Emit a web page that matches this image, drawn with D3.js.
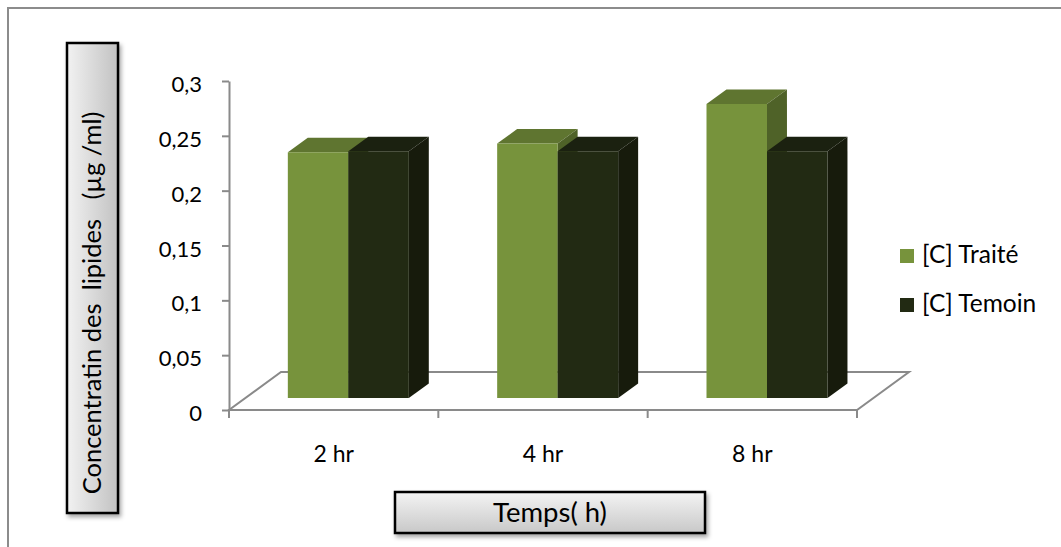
<!DOCTYPE html>
<html>
<head>
<meta charset="utf-8">
<script src="https://cdn.jsdelivr.net/npm/d3@7/dist/d3.min.js"></script>
<style>
  html, body { margin: 0; padding: 0; background: #fff; }
  svg { display: block; }
  text { font-family: Lato, "Open Sans", sans-serif; fill: #000; }
</style>
</head>
<body>
<svg id="chart" width="1061" height="547"></svg>
<script>
// Lipid concentration over time, treated vs control
const categories = ["2 hr", "4 hr", "8 hr"];
const seriesNames = ["[C] Traité", "[C] Temoin"];
const traite = [0.224, 0.232, 0.268];
const temoin = [0.225, 0.225, 0.225];
const yTicks = [0, 0.05, 0.1, 0.15, 0.2, 0.25, 0.3];
const yTitle = "Concentratin des  lipides   (µg /ml)";
const xTitle = "Temps( h)";

const seriesValues = [traite, temoin];
const faceColors = [
  { front: "#77933c", top: "#5f7530", side: "#4f6228" },
  { front: "#222a13", top: "#1b2110", side: "#171b0c" }
];

const svg = d3.select("#chart");
const defs = svg.append("defs");

const shadow = defs.append("filter").attr("id", "boxShadow")
  .attr("x", "-20%").attr("y", "-20%").attr("width", "140%").attr("height", "140%");
shadow.append("feDropShadow").attr("dx", 2).attr("dy", 3).attr("stdDeviation", 2)
  .attr("flood-color", "#000").attr("flood-opacity", 0.35);

const gradV = defs.append("linearGradient").attr("id", "gradY")
  .attr("x1", 0).attr("y1", 0).attr("x2", 1).attr("y2", 0);
gradV.append("stop").attr("offset", 0).attr("stop-color", "#f2f2f2");
gradV.append("stop").attr("offset", 1).attr("stop-color", "#c2c2c2");

const gradH = defs.append("linearGradient").attr("id", "gradX")
  .attr("x1", 0).attr("y1", 0).attr("x2", 0).attr("y2", 1);
gradH.append("stop").attr("offset", 0).attr("stop-color", "#f4f4f4");
gradH.append("stop").attr("offset", 1).attr("stop-color", "#c8c8c8");

// chart frame
svg.append("rect").attr("x", 8).attr("y", 8).attr("width", 1100).attr("height", 600)
  .attr("fill", "none").attr("stroke", "#8c8c8c").attr("stroke-width", 2);

// scales (front plane of the floor)
const y = d3.scaleLinear().domain([0, 0.3]).range([410, 81]);
const x = d3.scaleBand().domain(categories).range([229, 857]).padding(0);
const xSub = d3.scaleBand().domain(seriesNames).range([0, x.bandwidth()])
  .paddingInner(0).paddingOuter(0.73).align(0.48);

// oblique depth projection
const DEPTH_DX = 52, DEPTH_DY = -38;
const P = (px, py, z) => [px + z * DEPTH_DX, py + z * DEPTH_DY];
const Z0 = 0.316, Z1 = 0.70;

const axisColor = "#8a8a8a";

// floor outline
const fx0 = x.range()[0], fx1 = x.range()[1], fy = y(0);
const floorPts = [P(fx0, fy, 0), P(fx1, fy, 0), P(fx1, fy, 1), P(fx0, fy, 1)];
svg.append("polygon").attr("points", floorPts.map(p => p.join(",")).join(" "))
  .attr("fill", "none").attr("stroke", axisColor).attr("stroke-width", 2);

// value axis
const yAxis = d3.axisLeft(y).tickValues(yTicks).tickSize(7).tickSizeOuter(0).tickPadding(20)
  .tickFormat(d => d3.format("~g")(d).replace(".", ","));
const gy = svg.append("g").attr("transform", `translate(${fx0},0)`).call(yAxis);
gy.select(".domain").attr("stroke", axisColor).attr("stroke-width", 2);
gy.selectAll(".tick line").attr("stroke", axisColor).attr("stroke-width", 2);
gy.selectAll(".tick text").attr("font-size", 22).attr("dy", "0.48em")
  .style("font-family", "Lato, 'Open Sans', sans-serif").attr("fill", "#000");

// category boundary ticks
const bounds = categories.map(c => x(c)).concat([fx1]);
svg.append("g").selectAll("line").data(bounds).join("line")
  .attr("x1", d => d).attr("x2", d => d).attr("y1", fy - 1).attr("y2", fy + 8)
  .attr("stroke", axisColor).attr("stroke-width", 2);

// category labels
const xAxis = d3.axisBottom(x).tickSize(0).tickPadding(0);
const gx = svg.append("g").attr("transform", `translate(0,${fy})`).call(xAxis);
gx.select(".domain").remove();
gx.selectAll(".tick text").attr("font-size", 23).attr("y", 52).attr("dy", 0)
  .style("font-family", "Lato, 'Open Sans', sans-serif").attr("fill", "#000");

// 3D columns
const bars = [];
categories.forEach((c, i) => {
  seriesNames.forEach((s, j) => {
    bars.push({ cat: c, s, j, v: seriesValues[j][i] });
  });
});

const gBars = svg.append("g");
bars.forEach(b => {
  const x0 = x(b.cat) + xSub(b.s), x1 = x0 + xSub.bandwidth();
  const yb = y(0), yt = y(b.v);
  const col = faceColors[b.j];
  const poly = pts => pts.map(p => p.join(",")).join(" ");
  const g = gBars.append("g");
  g.append("polygon").attr("fill", col.top)
    .attr("points", poly([P(x0, yt, Z0), P(x1, yt, Z0), P(x1, yt, Z1), P(x0, yt, Z1)]));
  g.append("polygon").attr("fill", col.side)
    .attr("points", poly([P(x1, yb, Z0), P(x1, yt, Z0), P(x1, yt, Z1), P(x1, yb, Z1)]));
  g.append("polygon").attr("fill", col.front)
    .attr("points", poly([P(x0, yb, Z0), P(x1, yb, Z0), P(x1, yt, Z0), P(x0, yt, Z0)]));
});

// legend
const legend = svg.append("g").attr("transform", "translate(900,249)");
seriesNames.forEach((s, j) => {
  const row = legend.append("g").attr("transform", `translate(0,${j * 49})`);
  row.append("rect").attr("width", 14).attr("height", 14).attr("fill", faceColors[j].front);
  row.append("text").attr("x", 22).attr("y", 14).attr("font-size", 24.5).text(s);
});

// value axis title box
svg.append("rect").attr("x", 67).attr("y", 43).attr("width", 51).attr("height", 470)
  .attr("fill", "url(#gradY)").attr("stroke", "#000").attr("stroke-width", 2.5)
  .attr("filter", "url(#boxShadow)");
svg.append("text").attr("transform", "translate(101,303) rotate(-90)")
  .attr("text-anchor", "middle").attr("font-size", 25.5).style("white-space", "pre")
  .text(yTitle);

// category axis title box
svg.append("rect").attr("x", 395).attr("y", 492).attr("width", 310).attr("height", 41)
  .attr("fill", "url(#gradX)").attr("stroke", "#000").attr("stroke-width", 2.5)
  .attr("filter", "url(#boxShadow)");
svg.append("text").attr("x", 550).attr("y", 522).attr("text-anchor", "middle")
  .attr("font-size", 27.5).style("white-space", "pre").text(xTitle);
</script>
</body>
</html>
